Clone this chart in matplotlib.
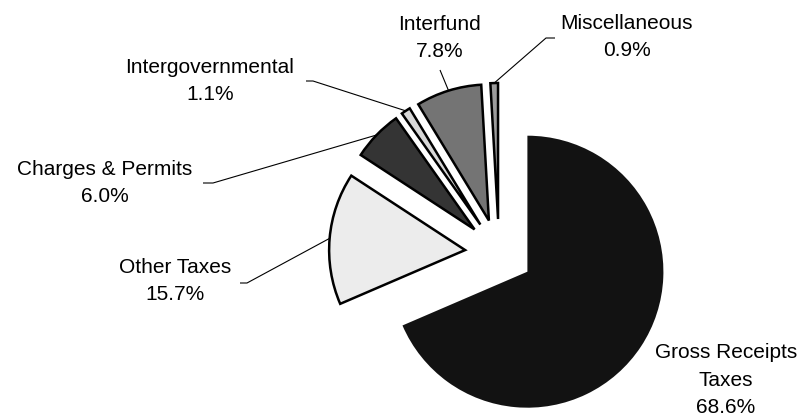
import numpy as np
import matplotlib
matplotlib.use("Agg")
import matplotlib.pyplot as plt

# revenue sources and their share of the total, in percent
sources = ["Gross Receipts\nTaxes", "Other Taxes", "Charges & Permits",
           "Intergovernmental", "Interfund", "Miscellaneous"]
shares = [68.6, 15.7, 6.0, 1.1, 7.8, 0.9]

fills = ["#121212", "#ececec", "#343434", "#d8d8d8", "#747474", "#9c9c9c"]

W, H = 806, 419
plt.rcParams["font.family"] = ["Liberation Sans", "DejaVu Sans"]

fig = plt.figure(figsize=(W / 100, H / 100), dpi=100)
ax = fig.add_axes([0, 0, 1, 1])

centre = (499, H - 253)
radius = 136
wedges, _ = ax.pie(shares, startangle=90, counterclock=False, colors=fills,
                   explode=[34] * len(shares), radius=radius, center=centre,
                   wedgeprops=dict(edgecolor="black", linewidth=1.8))
wedges[0].set_linewidth(0)

ax.set_xlim(0, W)
ax.set_ylim(0, H)
ax.set_aspect("equal")
ax.axis("off")

# label block centres and leader start points, in pixels from the top left
label_pos = [(726, 380), (175, 281), (105, 183), (210, 81), (440, 38), (627, 37)]
leaders = [None,
           [(240, 283), (247, 283)],
           [(203, 183), (213, 183)],
           [(306, 81), (313, 81)],
           [(440, 70)],
           [(555, 38), (546, 38)]]

for w, name, share, (lx, ly), lead in zip(wedges, sources, shares, label_pos, leaders):
    ax.text(lx, H - ly, f"{name}\n{share:.1f}%", ha="center", va="center",
            fontsize=15, linespacing=1.55, color="black")
    if lead is None:
        continue
    mid = np.radians((w.theta1 + w.theta2) / 2)
    cx, cy = w.center
    ex, ey = cx + w.r * np.cos(mid), cy + w.r * np.sin(mid)
    xs = [p[0] for p in lead] + [ex]
    ys = [H - p[1] for p in lead] + [ey]
    ax.plot(xs, ys, color="black", linewidth=0.8, solid_capstyle="butt")

fig.savefig("out.png", dpi=100)
